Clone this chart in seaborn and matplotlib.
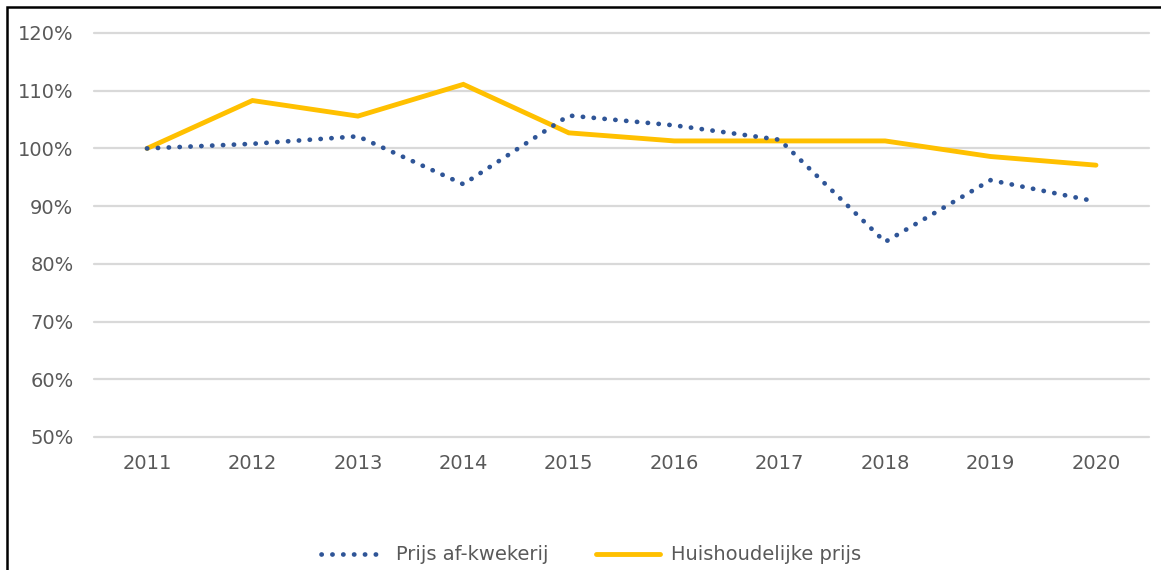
import matplotlib
matplotlib.use("Agg")
import matplotlib.pyplot as plt
import seaborn as sns
import pandas as pd
from matplotlib.patches import Rectangle
from matplotlib.lines import Line2D

years = [2011, 2012, 2013, 2014, 2015, 2016, 2017, 2018, 2019, 2020]
prijs_af_kwekerij = [100.0, 100.8, 102.1, 93.8, 105.7, 104.0, 101.5, 83.8, 94.5, 90.8]
huishoudelijke_prijs = [100.0, 108.3, 105.6, 111.1, 102.7, 101.3, 101.3, 101.3, 98.6, 97.1]
series_names = ["Prijs af-kwekerij", "Huishoudelijke prijs"]
y_ticks = [50, 60, 70, 80, 90, 100, 110, 120]

sns.set_theme(style="white")
plt.rcParams["font.family"] = ["DejaVu Sans"]

df = pd.DataFrame({"year": years,
                   series_names[0]: prijs_af_kwekerij,
                   series_names[1]: huishoudelijke_prijs})

W, H = 1161, 570
fig = plt.figure(figsize=(W / 100, H / 100), dpi=100)
ax = fig.add_axes([94.3 / W, 1 - 437 / H, (1148.7 - 94.3) / W, (437 - 33) / H])

blue = "#2F5597"
yellow = "#FFC000"
text_col = "#595959"
dots = (0, (0.05, 2.25))

sns.lineplot(data=df, x="year", y=series_names[1], ax=ax, color=yellow,
             lw=3.5, solid_capstyle="round", solid_joinstyle="miter", zorder=3)
sns.lineplot(data=df, x="year", y=series_names[0], ax=ax, color=blue,
             lw=3.4, zorder=4)
ln = ax.lines[-1]
ln.set_linestyle(dots)
ln.set_dash_capstyle("round")

ax.set_xlim(2010.5, 2020.5)
ax.set_ylim(50, 120)
ax.set_yticks(y_ticks)
ax.set_yticklabels([f"{v}%" for v in y_ticks])
ax.set_xticks(years)
ax.set_xticklabels([str(y) for y in years])
ax.set_xlabel("")
ax.set_ylabel("")
for s in ax.spines.values():
    s.set_visible(False)
ax.grid(axis="y", color="#D9D9D9", lw=1.6, zorder=0)
ax.grid(axis="x", visible=False)
for gl in ax.yaxis.get_gridlines():
    gl.set_clip_on(False)
ax.tick_params(axis="both", length=0, labelsize=14, labelcolor=text_col)
ax.tick_params(axis="y", pad=15)
ax.tick_params(axis="x", pad=12)

handles = [Line2D([], [], color=blue, lw=3.4, linestyle=dots, dash_capstyle="round"),
           Line2D([], [], color=yellow, lw=3.5)]
leg = fig.legend(handles, series_names, loc="center", bbox_to_anchor=(591 / W, 1 - 555 / H),
                 ncol=2, frameon=False, fontsize=14, handlelength=3.3, handletextpad=0.6,
                 columnspacing=2.4)
for t in leg.get_texts():
    t.set_color(text_col)

fig.patches.append(Rectangle((7 / W, -0.1), 1.2, 1 - 7 / H + 0.1, transform=fig.transFigure,
                             fill=False, edgecolor="black", lw=1.8, zorder=10))

fig.savefig("out.png", dpi=100)
